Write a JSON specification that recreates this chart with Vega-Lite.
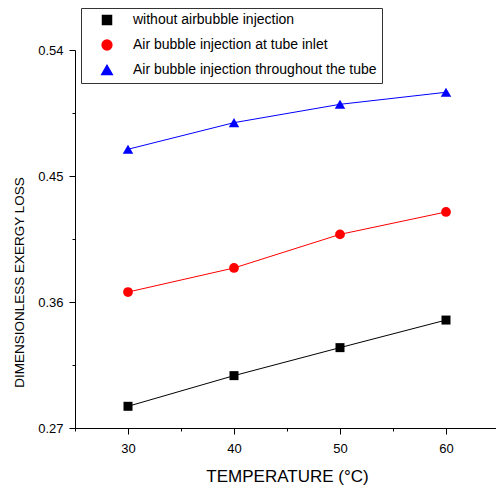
{
  "$schema": "https://vega.github.io/schema/vega-lite/v6.json",
  "width": 424,
  "height": 378,
  "autosize": "none",
  "padding": {"left": 75, "top": 50, "right": 0, "bottom": 60},
  "config": {
    "font": "Liberation Sans",
    "view": {"stroke": null},
    "axis": {
      "grid": false,
      "domainColor": "black",
      "tickColor": "black",
      "labelColor": "black",
      "titleColor": "black",
      "labelFont": "Liberation Sans",
      "titleFont": "Liberation Sans",
      "labelFontSize": 13,
      "titleFontWeight": "normal",
      "titleFontSize": 14
    }
  },
  "data": {
    "values": [
      {"temperature": 30, "series": "without airbubble injection", "loss": 0.2855},
      {"temperature": 40, "series": "without airbubble injection", "loss": 0.3074},
      {"temperature": 50, "series": "without airbubble injection", "loss": 0.3274},
      {"temperature": 60, "series": "without airbubble injection", "loss": 0.3471},
      {"temperature": 30, "series": "Air bubble injection at tube inlet", "loss": 0.3671},
      {"temperature": 40, "series": "Air bubble injection at tube inlet", "loss": 0.3843},
      {"temperature": 50, "series": "Air bubble injection at tube inlet", "loss": 0.4083},
      {"temperature": 60, "series": "Air bubble injection at tube inlet", "loss": 0.4243},
      {"temperature": 30, "series": "Air bubble injection throughout the tube", "loss": 0.4691},
      {"temperature": 40, "series": "Air bubble injection throughout the tube", "loss": 0.4881},
      {"temperature": 50, "series": "Air bubble injection throughout the tube", "loss": 0.5012},
      {"temperature": 60, "series": "Air bubble injection throughout the tube", "loss": 0.5098}
    ]
  },
  "layer": [
    {
      "mark": {"type": "line", "strokeWidth": 1},
      "encoding": {
        "x": {
          "field": "temperature", "type": "quantitative",
          "scale": {"domain": [25, 65], "nice": false, "zero": false},
          "axis": {"orient": "bottom", "values": [30, 40, 50, 60], "tickSize": 6, "labelPadding": 8, "title": "TEMPERATURE (°C)", "titleFontSize": 17, "titlePadding": 13}
        },
        "y": {
          "field": "loss", "type": "quantitative",
          "scale": {"domain": [0.27, 0.54], "nice": false, "zero": false},
          "axis": {"orient": "left", "values": [0.27, 0.36, 0.45, 0.54], "format": ".2f", "tickSize": 6, "labelPadding": 6, "title": "DIMENSIONLESS EXERGY LOSS", "titleFontSize": 13.5, "titleX": -56, "titleY": 232, "titleAlign": "center", "titleBaseline": "middle", "titleAngle": -90}
        },
        "color": {
          "field": "series", "type": "nominal",
          "scale": {"domain": ["without airbubble injection", "Air bubble injection at tube inlet", "Air bubble injection throughout the tube"], "range": ["#000000", "#ff0000", "#0000ff"]}
        }
      }
    },
    {
      "mark": {"type": "point", "filled": true, "opacity": 1},
      "encoding": {
        "x": {"field": "temperature", "type": "quantitative", "axis": null},
        "y": {"field": "loss", "type": "quantitative", "axis": null},
        "color": {
          "field": "series", "type": "nominal",
          "legend": {
            "orient": "none", "legendX": 6, "legendY": -42, "title": null,
            "padding": 5, "rowPadding": 9, "strokeColor": "#333333", "fillColor": "white",
            "labelFontSize": 14, "labelColor": "black", "labelFont": "Liberation Sans",
            "symbolOffset": 14, "labelOffset": 19, "labelLimit": 400
          }
        },
        "shape": {
          "field": "series", "type": "nominal",
          "scale": {"domain": ["without airbubble injection", "Air bubble injection at tube inlet", "Air bubble injection throughout the tube"], "range": ["square", "circle", "triangle-up"]}
        },
        "size": {
          "field": "series", "type": "nominal",
          "scale": {"domain": ["without airbubble injection", "Air bubble injection at tube inlet", "Air bubble injection throughout the tube"], "range": [81, 110, 130]},
          "legend": null
        }
      }
    },
    {
      "mark": {"type": "point", "opacity": 0},
      "encoding": {
        "x": {
          "field": "temperature", "type": "quantitative",
          "axis": {"orient": "bottom", "values": [25, 35, 45, 55, 65], "labels": false, "domain": false, "tickSize": 3, "title": null}
        },
        "y": {
          "field": "loss", "type": "quantitative",
          "axis": {"orient": "left", "values": [0.315, 0.405, 0.495], "labels": false, "domain": false, "tickSize": 3, "title": null}
        }
      }
    }
  ],
  "resolve": {"axis": {"x": "independent", "y": "independent"}}
}
